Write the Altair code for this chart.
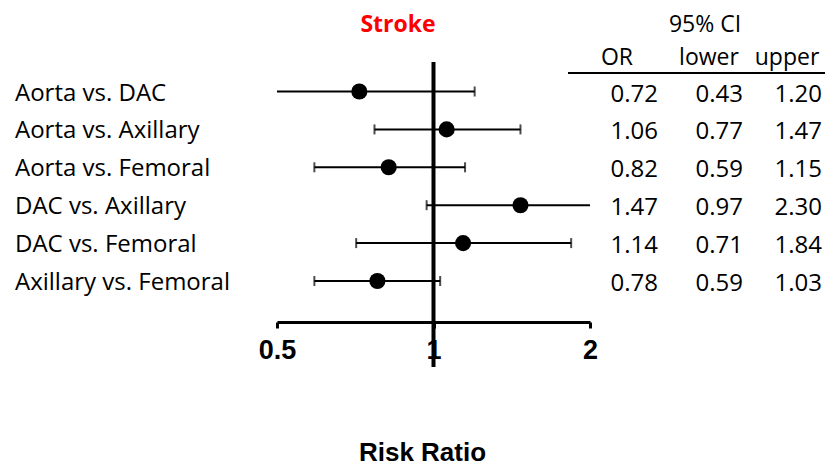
import altair as alt
import pandas as pd

labels = ["Aorta vs. DAC", "Aorta vs. Axillary", "Aorta vs. Femoral",
          "DAC vs. Axillary", "DAC vs. Femoral", "Axillary vs. Femoral"]
or_vals = [0.72, 1.06, 0.82, 1.47, 1.14, 0.78]
lower_vals = [0.43, 0.77, 0.59, 0.97, 0.71, 0.59]
upper_vals = [1.20, 1.47, 1.15, 2.30, 1.84, 1.03]
x_ticks = [0.5, 1, 2]
x_min, x_max = 0.5, 2

df = pd.DataFrame({
    "label": labels,
    "row": list(range(len(labels))),
    "or": or_vals,
    "lower": lower_vals,
    "upper": upper_vals,
})
one = pd.DataFrame({"k": [0]})

FONT = "Open Sans"
AXFONT = "Liberation Sans"

xscale = alt.Scale(type="log", domain=[x_min, x_max], range=[269, 582], nice=False)
yscale = alt.Scale(domain=[0, 5], range=[83.5, 273], nice=False, zero=False)
Y = alt.Y("row:Q", scale=yscale, axis=None)

base = alt.Chart(df).transform_calculate(
    lo=f"max(datum.lower, {x_min})", hi=f"min(datum.upper, {x_max})"
)

bars = base.mark_rule(color="black", strokeWidth=2).encode(
    x=alt.X("lo:Q", scale=xscale,
            axis=alt.Axis(values=x_ticks, title="Risk Ratio", grid=False,
                          labelExpr="datum.value == 0.5 ? '0.5' : datum.value + ''",
                          domainWidth=3, domainColor="black", tickWidth=3,
                          tickColor="black", tickSize=6, labelPadding=9,
                          labelFont=AXFONT, labelFontSize=27, labelFontWeight="bold",
                          labelColor="black", labelFlush=False, labelOverlap=False,
                          titleFont=AXFONT, titleFontSize=26, titleFontWeight="bold",
                          titleColor="black", titleX=414, titleY=138,
                          titleBaseline="alphabetic")),
    x2="hi:Q",
    y=Y,
)

cap_lo = base.transform_filter(f"datum.lower >= {x_min}").mark_tick(
    orient="vertical", size=10, thickness=2, color="black").encode(
    x=alt.X("lower:Q", scale=xscale), y=Y)
cap_hi = base.transform_filter(f"datum.upper <= {x_max}").mark_tick(
    orient="vertical", size=10, thickness=2, color="black").encode(
    x=alt.X("upper:Q", scale=xscale), y=Y)

pts = base.mark_circle(size=260, color="black", opacity=1).encode(
    x=alt.X("or:Q", scale=xscale), y=Y)

ref = alt.Chart(one).mark_rule(color="black", strokeWidth=4).encode(
    x=alt.datum(1, scale=xscale), y=alt.value(54), y2=alt.value(359))

left_txt = base.mark_text(align="left", baseline="middle", font=FONT,
                          fontSize=24, color="black", dy=2).encode(
    x=alt.value(7), y=Y, text="label:N")

def col(field, xpos):
    return base.mark_text(align="right", baseline="middle", font=FONT,
                          fontSize=24, color="black", dy=3).encode(
        x=alt.value(xpos), y=Y, text=alt.Text(f"{field}:Q", format=".2f"))

or_txt = col("or", 650)
lo_txt = col("lower", 735)
up_txt = col("upper", 814)

hdr = pd.DataFrame({"t": ["95% CI", "OR", "lower", "upper"],
                    "x": [697, 609, 701, 779], "y": [17, 50, 50, 50]})
hdr_txt = alt.Chart(hdr).mark_text(align="center", baseline="middle", font=FONT,
                                   fontSize=23, color="black").encode(
    x=alt.X("x:Q", scale=None), y=alt.Y("y:Q", scale=None), text="t:N")

hline = alt.Chart(one).mark_rule(color="black", strokeWidth=2).encode(
    x=alt.value(560), x2=alt.value(817), y=alt.value(65))

title_txt = alt.Chart(pd.DataFrame({"t": ["Stroke"]})).mark_text(
    align="center", baseline="middle", font=FONT, fontSize=23, fontWeight="bold",
    color="#FF0000").encode(x=alt.value(390), y=alt.value(17), text="t:N")

chart = alt.layer(bars, cap_lo, cap_hi, ref, pts, left_txt, or_txt, lo_txt, up_txt,
                  hdr_txt, hline, title_txt).properties(
    width=817, height=314, autosize="none",
    padding={"left": 0, "top": 0, "right": 0, "bottom": 146},
).configure_view(strokeWidth=0)

chart.save("out.html", embed_options={"renderer": "svg", "actions": False})
